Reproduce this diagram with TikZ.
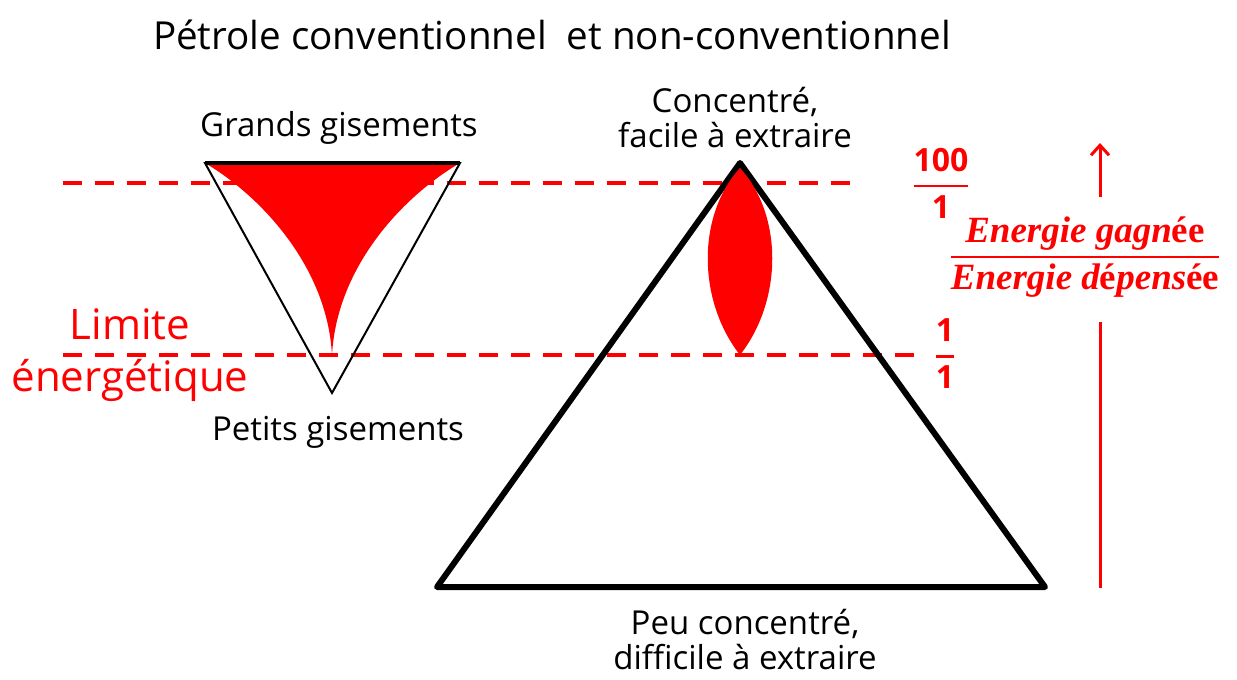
\documentclass[tikz,border=0pt]{standalone}
\usepackage{fontspec}
\setmainfont{Open Sans}
\newfontfamily\serifb{Liberation Serif}
\usetikzlibrary{arrows.meta}
\definecolor{pred}{RGB}{255,0,0}
\begin{document}
\begin{tikzpicture}[x=0.5pt,y=-0.5pt,
  lbl/.style={font=\fontsize{16.5}{17.5}\selectfont, align=center, inner sep=0},
  titlelbl/.style={font=\fontsize{19.3}{23}\selectfont, inner sep=0},
  redlbl/.style={text=pred, font=\fontsize{21}{26}\selectfont, align=center, inner sep=0},
  limline/.style={pred, line width=2pt, dash pattern=on 9.5pt off 6.5pt},
  fracnode/.style={text=pred, inner sep=0},
  redline/.style={pred, line width=1.5pt},
]
\useasboundingbox (0,0) rectangle (1237,680);
% dashed limit lines
\coordinate (d1a) at (63,183); \coordinate (d1b) at (857,183);
\coordinate (d2a) at (63,355); \coordinate (d2b) at (920,355);
\draw[limline] (d1a) -- (d1b);
\draw[limline] (d2a) -- (d2b);
% left inverted triangle
\coordinate (gl) at (205,163); \coordinate (gr) at (460,163);
\coordinate (gb) at (332,393); \coordinate (gt) at (332,355);
\fill[pred] (gl) -- (gr) .. controls (405,195) and (337,265) .. (gt)
  .. controls (327,265) and (259,195) .. (gl) -- cycle;
\draw[line width=1pt, line join=miter] (gl) -- (gr) -- (gb) -- cycle;
\draw[line width=1.6pt] (gl) -- (gr);
% big triangle
\coordinate (pa) at (740,163); \coordinate (pl) at (437,587); \coordinate (pr) at (1045,587);
\draw[line width=3pt, line join=round] (pa) -- (pr) -- (pl) -- cycle;
% lens
\coordinate (lt) at (740,168); \coordinate (lb) at (740,355);
\fill[pred] (lt) .. controls (697,215) and (697,300) .. (lb)
  .. controls (783,300) and (783,215) .. (lt) -- cycle;
% texts
\node[titlelbl] (title) at (552,35) {Pétrole conventionnel\ \ et non-conventionnel};
\node[lbl] (grands) at (339,128) {Grands gisements};
\node[lbl] (petits) at (338,432) {Petits gisements};
\node[lbl] (conc) at (735,118) {Concentré,\\facile à extraire};
\node[lbl] (peu) at (745,640) {Peu concentré,\\difficile à extraire};
\node[redlbl] (lim) at (130,355) {Limite\\énergétique};
\node[fracnode] (f100) at (941,183) {\fontsize{16}{19}\selectfont$\displaystyle{\mathbf{100}\above 1.2pt \mathbf{1}}$};
\node[fracnode] (f1) at (945,354) {\fontsize{16}{19}\selectfont$\displaystyle{\mathbf{1}\above 1.2pt \mathbf{1}}$};
\node[fracnode] (ratio) at (1085,257) {\fontsize{18.5}{21}\selectfont\serifb\bfseries$\displaystyle{\hbox{\itshape Energie gagn\upshape ée}\above 1pt \hbox{\itshape Energie d\upshape é\itshape pens\upshape ée}}$};
% arrow
\coordinate (abot) at (1100,588); \coordinate (agap) at (1100,322);
\coordinate (agap2) at (1100,197); \coordinate (atop) at (1100,143);
\draw[redline] (abot) -- (agap);
\draw[redline, -{Straight Barb[length=5pt,width=9pt]}] (agap2) -- (atop);
\end{tikzpicture}
\end{document}
